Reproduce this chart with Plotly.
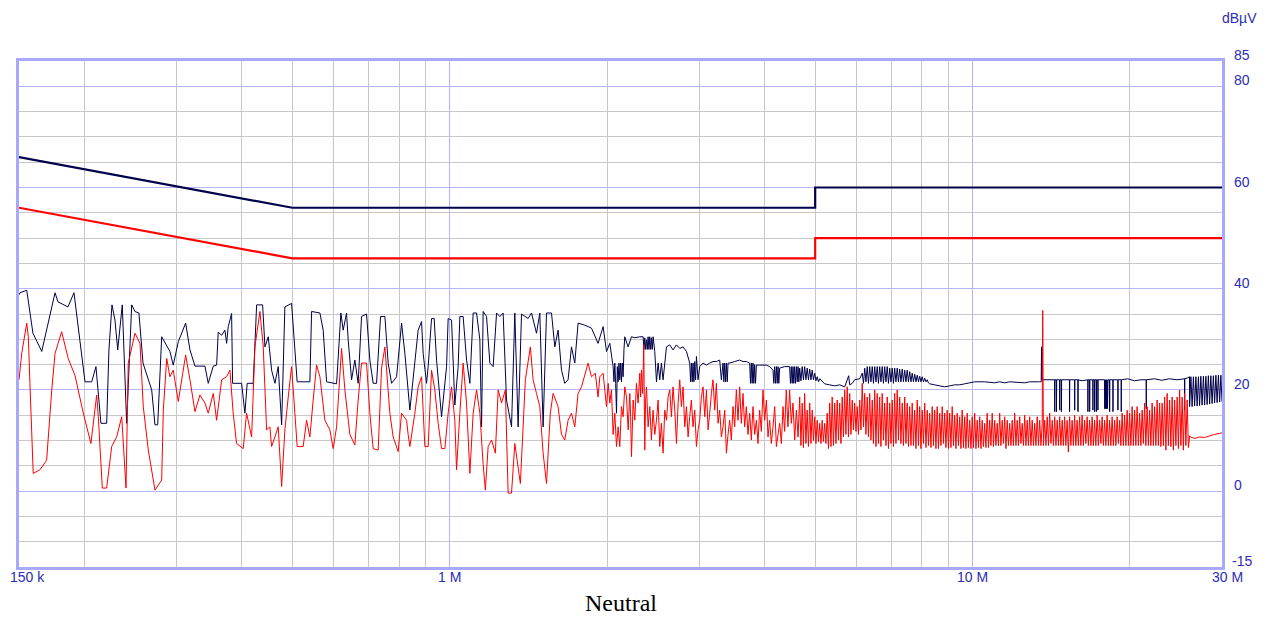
import math
import plotly.graph_objects as go

# ---------------- limit lines ----------------
limit_freq_mhz = [0.15, 0.5, 5.0, 5.0, 30.0]
qp_limit_dbuv = [66, 56, 56, 60, 60]
av_limit_dbuv = [56, 46, 46, 50, 50]

# ---------------- quasi-peak trace (navy) ----------------
qp_freq_mhz = [
    0.1500, 0.1507, 0.1552, 0.1595, 0.1658, 0.1758, 0.1781, 0.1861, 0.1911, 0.2006,
    0.2066, 0.2105, 0.2152, 0.2207, 0.2229, 0.2259, 0.2289, 0.2317, 0.2364, 0.2410,
    0.2464, 0.2500, 0.2544, 0.2590, 0.2691, 0.2730, 0.2763, 0.2812, 0.2916, 0.2959,
    0.3025, 0.3125, 0.3185, 0.3256, 0.3402, 0.3452, 0.3529, 0.3582, 0.3607, 0.3662,
    0.3715, 0.3743, 0.3770, 0.3826, 0.3843, 0.3998, 0.4057, 0.4098, 0.4208, 0.4272,
    0.4386, 0.4431, 0.4496, 0.4563, 0.4630, 0.4698, 0.4769, 0.4838, 0.4983, 0.5107,
    0.5401, 0.5442, 0.5645, 0.5727, 0.5813, 0.6075, 0.6191, 0.6254, 0.6348, 0.6393,
    0.6490, 0.6584, 0.6681, 0.6781, 0.6932, 0.7034, 0.7137, 0.7245, 0.7373, 0.7515,
    0.7625, 0.7740, 0.7912, 0.8088, 0.8207, 0.8389, 0.8701, 0.8832, 0.8895, 0.9029,
    0.9093, 0.9230, 0.9336, 0.9436, 0.9646, 0.9860, 0.9930, 1.0080, 1.0227, 1.0377,
    1.0455, 1.0608, 1.0768, 1.0926, 1.1086, 1.1253, 1.1418, 1.1504, 1.1585, 1.1760,
    1.1932, 1.2107, 1.2290, 1.2470, 1.2650, 1.2841, 1.3127, 1.3319, 1.3514, 1.3718,
    1.4121, 1.4334, 1.4654, 1.4869, 1.5086, 1.5314, 1.5654, 1.5883, 1.6115, 1.6358,
    1.6598, 1.6841, 1.7094, 1.7345, 1.7599, 1.8126, 1.8669, 1.9218, 1.9650, 1.9946,
    2.0238, 2.0534, 2.0611, 2.0688, 2.0766, 2.0843, 2.0918, 2.0992, 2.1070, 2.1148,
    2.1228, 2.1308, 2.1383, 2.1458, 2.1540, 2.1618, 2.1934, 2.2265, 2.2591, 2.3093,
    2.3431, 2.3519, 2.3607, 2.3696, 2.3784, 2.3870, 2.3955, 2.4044, 2.4132, 2.4223,
    2.4314, 2.4400, 2.4486, 2.4668, 2.4855, 2.5036, 2.5217, 2.5403, 2.5589, 2.5974,
    2.6351, 2.6739, 2.7143, 2.7536, 2.7943, 2.8364, 2.8775, 2.8885, 2.8995, 2.9096,
    2.9196, 2.9306, 2.9415, 2.9528, 2.9640, 2.9848, 3.0069, 3.0511, 3.0974, 3.1421,
    3.1886, 3.2360, 3.2835, 3.3078, 3.3320, 3.3442, 3.3565, 3.3694, 3.3823, 3.3944,
    3.4065, 3.4311, 3.5074, 3.5854, 3.6385, 3.6925, 3.7467, 3.7605, 3.7743, 3.7883,
    3.8022, 3.8161, 3.8300, 3.8448, 3.8596, 3.9152, 4.0333, 4.0913, 4.1523, 4.1673,
    4.1823, 4.1987, 4.2150, 4.2303, 4.2455, 4.2604, 4.2753, 4.3704, 4.4676, 4.4844,
    4.5011, 4.5180, 4.5348, 4.5509, 4.5670, 4.5851, 4.6032, 4.6202, 4.6371, 4.6538,
    4.6705, 4.696, 4.722, 4.748, 4.774, 4.800, 4.827, 4.854, 4.881, 4.908,
    4.935, 4.962, 4.990, 5.017, 5.045, 5.073, 5.101, 5.214, 5.330, 5.449,
    5.570, 5.694, 5.795, 5.821, 5.886, 5.951, 6.083, 6.151, 6.185, 6.219,
    6.253, 6.288, 6.322, 6.357, 6.392, 6.428, 6.463, 6.499, 6.535, 6.571,
    6.607, 6.643, 6.680, 6.717, 6.754, 6.791, 6.829, 6.867, 6.905, 6.943,
    6.981, 7.020, 7.058, 7.097, 7.136, 7.176, 7.215, 7.255, 7.295, 7.336,
    7.376, 7.417, 7.458, 7.499, 7.540, 7.582, 7.624, 7.666, 7.708, 7.751,
    7.794, 7.837, 7.880, 7.923, 7.967, 8.011, 8.055, 8.100, 8.145, 8.190,
    8.235, 8.280, 8.464, 8.653, 8.845, 9.042, 9.244, 9.449, 9.660, 9.875,
    10.095, 10.549, 11.024, 11.270, 11.521, 11.777, 12.581, 12.861, 13.441, 13.530,
    13.550, 13.570, 14.350, 14.360, 14.375, 14.460, 14.470, 14.485, 14.670, 14.680,
    14.695, 14.780, 14.790, 14.805, 15.320, 15.330, 15.345, 15.670, 15.680, 15.695,
    15.900, 15.910, 15.925, 16.200, 16.610, 16.620, 16.635, 16.740, 16.750, 16.765,
    16.980, 16.990, 17.005, 17.110, 17.120, 17.135, 17.240, 17.250, 17.265, 17.360,
    17.370, 17.385, 17.880, 17.890, 17.920, 17.950, 17.980, 18.020, 18.050, 18.090,
    18.120, 18.160, 18.280, 18.290, 18.305, 18.550, 18.560, 18.575, 18.960, 18.970,
    18.985, 19.240, 19.250, 19.265, 19.800, 20.400, 21.000, 21.480, 21.490, 21.505,
    22.300, 23.000, 23.800, 24.600, 25.440, 25.450, 25.465, 25.800, 26.000, 26.010,
    26.160, 26.300, 26.450, 26.590, 26.740, 26.890, 27.040, 27.180, 27.330, 27.480,
    27.640, 27.790, 27.940, 28.100, 28.250, 28.410, 28.560, 28.720, 28.880, 29.040,
    29.200, 29.360, 29.530, 29.690, 29.850, 30.000,
]
qp_level_dbuv = [
    38.8, 39.2, 39.7, 31.2, 27.6, 39.2, 37.4, 36.4, 39.2, 21.6,
    21.6, 24.6, 13.4, 13.4, 27.9, 36.8, 33.8, 27.9, 36.8, 13.4,
    36.8, 35.5, 35.2, 25.3, 20.0, 13.1, 13.1, 30.5, 27.6, 24.9,
    29.5, 33.2, 27.9, 24.7, 24.7, 21.3, 24.7, 24.9, 31.4, 30.8,
    31.8, 29.2, 32.5, 35.1, 21.3, 21.3, 15.4, 21.3, 21.3, 36.8,
    36.8, 28.5, 30.5, 23.9, 21.3, 24.6, 13.1, 36.4, 37.1, 21.6,
    21.6, 35.5, 35.2, 31.8, 21.6, 21.2, 35.2, 31.8, 35.2, 29.9,
    22.0, 25.9, 21.3, 34.5, 35.0, 25.9, 21.3, 21.3, 34.5, 34.5,
    25.3, 21.3, 22.6, 33.2, 27.2, 16.0, 31.8, 33.5, 27.2, 21.3,
    24.6, 34.1, 34.1, 25.9, 14.7, 24.6, 34.1, 33.8, 17.0, 24.6,
    34.5, 34.5, 25.9, 21.3, 35.2, 35.2, 29.9, 12.7, 35.5, 34.5,
    25.3, 24.6, 35.2, 34.5, 35.2, 18.0, 12.7, 35.2, 12.7, 35.0,
    34.1, 35.2, 31.2, 35.2, 12.7, 35.2, 35.2, 28.5, 31.8, 23.9,
    21.3, 22.0, 28.5, 25.3, 33.2, 32.8, 32.2, 29.2, 32.5, 27.6,
    29.2, 24.6, 21.6, 25.3, 21.3, 15.4, 24.6, 21.6, 25.3, 22.0,
    25.3, 21.6, 25.3, 22.6, 28.0, 30.5, 28.5, 30.5, 30.3, 30.5,
    30.5, 28.0, 30.3, 28.0, 29.9, 28.0, 30.5, 28.0, 30.5, 28.0,
    30.3, 28.0, 30.5, 27.6, 21.6, 25.3, 22.0, 25.3, 22.0, 28.5,
    28.9, 27.9, 28.9, 28.2, 28.5, 27.6, 25.3, 21.6, 25.3, 21.6,
    25.3, 21.6, 25.6, 22.0, 26.6, 22.0, 24.6, 25.3, 24.9, 25.3,
    25.6, 25.6, 25.9, 22.0, 25.3, 21.6, 25.3, 21.6, 25.3, 21.6,
    25.3, 25.3, 25.6, 25.9, 25.6, 25.6, 25.3, 21.3, 25.3, 21.3,
    25.3, 21.3, 25.0, 21.3, 24.9, 24.9, 24.9, 24.6, 23.9, 21.3,
    24.6, 21.3, 24.6, 21.3, 24.6, 21.3, 24.3, 24.6, 24.6, 21.3,
    24.6, 21.3, 24.6, 21.3, 24.6, 21.3, 24.6, 21.6, 24.6, 21.6,
    24.3, 21.8, 24.6, 22.0, 24.6, 22.0, 24.3, 22.0, 24.1, 22.0,
    23.9, 22.0, 23.3, 21.8, 22.6, 21.6, 22.2, 21.2, 21.0, 20.8,
    21.0, 20.6, 22.8, 21.0, 21.3, 22.0, 22.2, 23.3, 21.3, 24.3,
    21.6, 24.6, 21.3, 24.6, 21.6, 24.6, 21.3, 24.6, 21.6, 24.6,
    21.3, 24.6, 21.6, 24.6, 21.3, 24.6, 21.6, 24.6, 21.3, 24.3,
    21.6, 24.3, 21.3, 24.3, 21.6, 24.3, 21.6, 24.1, 21.6, 24.1,
    21.6, 23.9, 21.6, 23.9, 21.6, 23.6, 21.6, 23.3, 21.6, 23.1,
    21.6, 22.9, 21.6, 22.7, 21.6, 22.6, 21.6, 22.3, 21.6, 22.0,
    21.4, 21.2, 21.0, 20.8, 20.6, 20.8, 21.0, 21.0, 21.2, 21.4,
    21.6, 21.6, 21.4, 21.6, 21.4, 21.6, 21.4, 21.6, 21.6, 21.6,
    28.5, 22.0, 22.0, 15.7, 22.0, 22.0, 15.7, 22.0, 22.0, 16.0,
    22.0, 22.0, 15.7, 22.0, 22.0, 15.7, 22.0, 22.0, 16.0, 22.0,
    22.0, 15.7, 22.0, 21.8, 22.0, 15.7, 22.0, 22.0, 15.7, 22.0,
    22.0, 16.0, 22.0, 22.0, 15.7, 22.0, 22.0, 15.7, 22.0, 22.0,
    16.0, 22.0, 22.0, 16.3, 16.3, 22.0, 16.3, 22.0, 16.3, 22.0,
    16.3, 22.0, 22.0, 15.7, 22.0, 22.0, 15.7, 22.0, 22.0, 16.0,
    22.0, 22.0, 15.7, 22.0, 22.2, 21.8, 22.0, 22.0, 16.3, 22.0,
    22.2, 21.9, 22.2, 22.0, 22.2, 16.0, 22.2, 22.4, 22.6, 16.7,
    22.6, 16.7, 22.6, 16.8, 22.6, 16.8, 22.6, 16.9, 22.7, 17.0,
    22.7, 17.0, 22.7, 17.1, 22.8, 17.2, 22.8, 17.3, 22.8, 17.4,
    22.9, 17.5, 22.9, 17.6, 22.9, 17.7,
]

# ---------------- average trace (red) ----------------
av_freq_mhz = [
    0.1500, 0.1518, 0.1552, 0.1563, 0.1574, 0.1597, 0.1645, 0.1694, 0.1733, 0.1758,
    0.1810, 0.1863, 0.1919, 0.1991, 0.2059, 0.2112, 0.2127, 0.2165, 0.2207, 0.2256,
    0.2306, 0.2358, 0.2403, 0.2427, 0.2500, 0.2556, 0.2593, 0.2651, 0.2730, 0.2812,
    0.2832, 0.2875, 0.2916, 0.2959, 0.3025, 0.3125, 0.3185, 0.3256, 0.3328, 0.3402,
    0.3452, 0.3529, 0.3582, 0.3662, 0.3743, 0.3798, 0.3853, 0.3911, 0.4027, 0.4087,
    0.4179, 0.4240, 0.4334, 0.4398, 0.4464, 0.4529, 0.4563, 0.4630, 0.4698, 0.4769,
    0.4838, 0.4910, 0.4983, 0.5056, 0.5107, 0.5244, 0.5323, 0.5401, 0.5480, 0.5563,
    0.5645, 0.5770, 0.5898, 0.5985, 0.6075, 0.6210, 0.6301, 0.6441, 0.6584, 0.6681,
    0.6781, 0.6932, 0.7034, 0.7137, 0.7296, 0.7406, 0.7515, 0.7682, 0.7794, 0.7968,
    0.8088, 0.8268, 0.8326, 0.8389, 0.8576, 0.8701, 0.8832, 0.8962, 0.9093, 0.9230,
    0.9365, 0.9503, 0.9646, 0.9787, 0.9930, 1.0080, 1.0227, 1.0304, 1.0455, 1.0608,
    1.0768, 1.0926, 1.1086, 1.1253, 1.1418, 1.1585, 1.1698, 1.1843, 1.2022, 1.2225,
    1.2377, 1.2563, 1.2776, 1.2932, 1.3127, 1.3319, 1.3648, 1.3952, 1.4263, 1.4437,
    1.4654, 1.4869, 1.5086, 1.5314, 1.5572, 1.5765, 1.6115, 1.6358, 1.6598, 1.6841,
    1.7094, 1.7345, 1.7599, 1.7865, 1.8391, 1.8669, 1.8986, 1.9218, 1.9367, 1.9650,
    1.9946, 2.0092, 2.0238, 2.0386, 2.0534, 2.0688, 2.0843, 2.0995, 2.1147, 2.1302,
    2.1457, 2.1620, 2.1784, 2.1941, 2.2099, 2.2182, 2.2265, 2.2346, 2.2427, 2.2591,
    2.2755, 2.2924, 2.3093, 2.3180, 2.3266, 2.3385, 2.3503, 2.3607, 2.3696, 2.3784,
    2.3958, 2.4132, 2.4309, 2.4486, 2.4670, 2.4855, 2.5036, 2.5217, 2.5403, 2.5589,
    2.5781, 2.5974, 2.6162, 2.6351, 2.6545, 2.6739, 2.6941, 2.7143, 2.7340, 2.7536,
    2.7740, 2.7943, 2.8153, 2.8364, 2.8570, 2.8775, 2.8985, 2.9196, 2.9418, 2.9640,
    2.9855, 3.0069, 3.0290, 3.0511, 3.0742, 3.0974, 3.1198, 3.1421, 3.1654, 3.1886,
    3.2123, 3.2360, 3.2598, 3.2835, 3.3078, 3.3320, 3.3572, 3.3823, 3.4067, 3.4311,
    3.4566, 3.4820, 3.5077, 3.5333, 3.5594, 3.5854, 3.6120, 3.6385, 3.6655, 3.6925,
    3.7196, 3.7467, 3.7745, 3.8022, 3.8309, 3.8596, 3.8874, 3.9152, 3.9443, 3.9733,
    4.0033, 4.0333, 4.0623, 4.0913, 4.1218, 4.1523, 4.1837, 4.2150, 4.2459, 4.2767,
    4.3084, 4.3400, 4.3713, 4.4025, 4.4351, 4.4676, 4.5010, 4.5344, 4.5687, 4.6030,
    4.6368,
    # dense part of the sweep
    4.6705, 4.696, 4.722, 4.748, 4.774, 4.800, 4.827, 4.854, 4.881, 4.908,
    4.935, 4.962, 4.990, 5.017, 5.045, 5.073, 5.101, 5.129, 5.157, 5.185,
    5.214, 5.243, 5.272, 5.301, 5.330, 5.360, 5.389, 5.419, 5.449, 5.479,
    5.509, 5.540, 5.570, 5.601, 5.632, 5.663, 5.694, 5.725, 5.757, 5.789,
    5.821, 5.853, 5.886, 5.918, 5.951, 5.984, 6.017, 6.050, 6.083, 6.117,
    6.151, 6.185, 6.219, 6.253, 6.288, 6.322, 6.357, 6.392, 6.428, 6.463,
    6.499, 6.535, 6.571, 6.607, 6.643, 6.680, 6.717, 6.754, 6.791, 6.829,
    6.867, 6.905, 6.943, 6.981, 7.020, 7.058, 7.097, 7.136, 7.176, 7.215,
    7.255, 7.295, 7.336, 7.376, 7.417, 7.458, 7.499, 7.540, 7.582, 7.624,
    7.666, 7.708, 7.751, 7.794, 7.837, 7.880, 7.923, 7.967, 8.011, 8.055,
    8.100, 8.145, 8.190, 8.235, 8.280, 8.326, 8.372, 8.418, 8.464, 8.511,
    8.558, 8.605, 8.653, 8.701, 8.749, 8.797, 8.845, 8.894, 8.943, 8.992,
    9.042, 9.092, 9.143, 9.193, 9.244, 9.295, 9.346, 9.397, 9.449, 9.501,
    9.554, 9.607, 9.660, 9.713, 9.767, 9.821, 9.875, 9.930, 9.985, 10.040,
    10.095, 10.151, 10.207, 10.263, 10.320, 10.377, 10.434, 10.491, 10.549, 10.607,
    10.666, 10.725, 10.784, 10.844, 10.904, 10.964, 11.024, 11.085, 11.147, 11.208,
    11.270, 11.332, 11.395, 11.458, 11.521, 11.584, 11.648, 11.712, 11.777, 11.842,
    11.908, 11.973, 12.039, 12.106, 12.173, 12.240, 12.307, 12.375, 12.444, 12.512,
    12.581, 12.650, 12.720, 12.790, 12.861, 12.932, 13.004, 13.076, 13.148, 13.221,
    13.294, 13.367, 13.441, 13.515, 13.590, 13.620, 13.665, 13.740, 13.816, 13.893,
    13.969, 14.046, 14.124, 14.202, 14.280, 14.358, 14.438, 14.518, 14.598, 14.678,
    14.758, 14.839, 14.920, 15.000, 15.083, 15.167, 15.250, 15.334, 15.419, 15.504,
    15.590, 15.675, 15.762, 15.849, 15.936, 16.024, 16.113, 16.202, 16.291, 16.381,
    16.472, 16.563, 16.654, 16.746, 16.839, 16.932, 17.025, 17.118, 17.213, 17.309,
    17.404, 17.500, 17.597, 17.694, 17.791, 17.889, 17.988, 18.088, 18.187, 18.287,
    18.389, 18.491, 18.593, 18.695, 18.799, 18.903, 19.007, 19.111, 19.217, 19.324,
    19.430, 19.537, 19.645, 19.754, 19.863, 19.972, 20.083, 20.194, 20.305, 20.416,
    20.529, 20.643, 20.757, 20.871, 20.987, 21.103, 21.219, 21.336, 21.454, 21.573,
    21.692, 21.811, 21.932, 22.054, 22.175, 22.297, 22.421, 22.545, 22.669, 22.793,
    22.920, 23.047, 23.174, 23.301, 23.430, 23.560, 23.689, 23.819, 23.951, 24.084,
    24.217, 24.350, 24.485, 24.621, 24.756, 24.892, 25.030, 25.169, 25.307, 25.446,
    25.587, 25.729, 25.871, 26.013, 26.150, 26.590, 27.180, 27.790, 28.410, 29.040,
    29.690, 30.000,
]
av_level_dbuv = [
    22.0, 27.2, 33.2, 30.5, 21.3, 3.5, 4.2, 6.1, 20.0, 27.2,
    31.5, 26.2, 22.9, 15.4, 9.4, 19.0, 14.7, 0.6, 0.6, 8.8,
    10.7, 14.7, 0.6, 25.3, 31.2, 29.2, 16.7, 8.1, 0.2, 2.2,
    16.0, 26.2, 22.6, 23.9, 17.7, 26.9, 22.0, 15.7, 19.0, 17.4,
    15.4, 19.3, 14.0, 22.0, 22.6, 23.9, 15.4, 9.4, 8.4, 15.4,
    10.7, 28.5, 35.5, 28.5, 12.1, 12.7, 8.8, 10.7, 12.7, 0.9,
    12.1, 18.6, 24.6, 15.4, 8.8, 8.8, 14.0, 10.7, 18.0, 24.9,
    22.6, 14.0, 12.1, 8.4, 12.7, 28.2, 20.0, 11.2, 9.1, 18.0,
    25.3, 25.3, 15.4, 8.4, 8.1, 24.3, 28.5, 15.4, 10.7, 7.8,
    15.4, 14.0, 11.2, 8.8, 15.4, 20.6, 22.6, 8.8, 8.8, 23.9,
    20.0, 13.4, 8.4, 8.4, 15.4, 20.6, 14.0, 4.2, 15.4, 25.3,
    17.4, 3.5, 15.4, 20.0, 15.4, 5.3, 0.2, 8.8, 10.1, 7.5,
    20.0, 17.4, 20.0, -0.4, -0.4, 9.4, 1.5, 22.0, 28.5, 22.0,
    19.3, 16.7, 7.5, 1.5, 15.4, 19.3, 16.7, 11.2, 10.1, 14.0,
    15.4, 12.7, 19.3, 20.6, 25.3, 22.6, 23.3, 18.6, 22.6, 23.3,
    16.7, 21.3, 17.4, 20.0, 11.2, 15.4, 8.8, 12.7, 8.8, 16.7,
    14.7, 20.6, 18.6, 12.1, 19.3, 14.7, 6.8, 12.1, 18.0, 14.0,
    21.3, 17.4, 23.3, 18.6, 23.9, 19.3, 28.9, 8.1, 18.0, 20.6,
    12.7, 16.7, 10.1, 16.0, 11.2, 14.0, 18.0, 8.8, 13.4, 7.5,
    16.0, 14.0, 18.6, 20.0, 14.7, 20.6, 16.0, 9.4, 17.4, 22.0,
    16.7, 20.6, 12.7, 16.7, 10.7, 14.7, 18.0, 12.7, 16.0, 8.8,
    12.1, 14.0, 18.6, 20.6, 14.7, 20.0, 12.1, 15.4, 19.3, 22.0,
    16.0, 21.3, 13.4, 16.0, 10.7, 12.7, 16.0, 7.5, 11.2, 14.0,
    10.1, 16.7, 12.7, 20.0, 14.0, 20.6, 13.4, 19.3, 12.7, 16.7,
    11.2, 15.4, 10.1, 16.7, 11.2, 14.0, 9.4, 16.0, 11.8, 20.0,
    14.0, 18.0, 10.7, 14.0, 9.4, 12.7, 16.7, 8.8, 11.2, 13.4,
    9.4, 16.7, 11.8, 20.0, 12.7, 20.0, 13.4, 17.4, 10.1, 16.0,
    10.7,
    # dense part of the sweep
    18.6, 9.0, 17.4, 8.6, 19.3, 9.4, 16.0, 8.8, 17.4, 9.4,
    16.0, 10.0, 14.7, 9.4, 14.0, 9.8, 13.4, 9.4, 14.0, 9.8,
    13.4, 9.4, 15.4, 8.4, 17.4, 8.8, 18.6, 9.0, 17.4, 9.4,
    18.0, 10.1, 17.4, 9.4, 18.6, 10.7, 20.0, 11.2, 20.6, 10.7,
    19.3, 11.2, 18.0, 12.1, 17.4, 11.8, 16.7, 11.2, 18.0, 12.1,
    21.3, 12.7, 19.3, 11.2, 18.6, 10.7, 19.3, 10.1, 18.0, 9.4,
    20.0, 8.8, 19.3, 9.4, 18.6, 8.8, 19.3, 10.1, 17.4, 9.0,
    18.6, 8.4, 17.4, 9.4, 18.0, 8.8, 19.3, 9.4, 20.0, 10.1,
    18.6, 9.4, 17.4, 9.0, 18.6, 9.4, 17.4, 8.8, 16.7, 9.0,
    17.4, 9.0, 16.0, 8.4, 18.0, 9.0, 16.7, 8.4, 16.0, 9.4,
    17.4, 8.6, 16.0, 9.0, 15.4, 8.6, 16.7, 9.0, 16.0, 8.4,
    16.7, 8.4, 15.4, 9.0, 16.7, 9.4, 15.4, 8.6, 16.0, 8.4,
    15.4, 8.6, 16.7, 9.0, 15.0, 8.4, 15.4, 9.0, 14.7, 8.4,
    16.0, 8.6, 14.7, 8.4, 15.4, 8.6, 14.0, 8.4, 14.7, 8.6,
    15.4, 8.4, 14.0, 8.6, 14.7, 8.4, 14.0, 8.8, 13.4, 8.6,
    15.4, 8.6, 14.0, 9.0, 15.4, 8.8, 14.0, 9.0, 13.4, 9.0,
    15.4, 9.0, 14.0, 9.4, 14.7, 8.4, 14.0, 9.0, 13.4, 9.0,
    14.0, 9.0, 15.4, 9.0, 14.0, 9.0, 14.7, 9.4, 13.4, 9.0,
    15.0, 9.0, 14.0, 9.0, 14.7, 9.0, 14.0, 9.0, 13.4, 9.0,
    14.7, 9.0, 14.0, 9.0, 13.4, 35.7, 9.0, 14.0, 9.0, 14.7,
    9.0, 15.4, 9.4, 14.0, 9.0, 14.7, 9.0, 14.0, 9.0, 14.7,
    9.0, 14.0, 9.0, 14.7, 9.0, 14.0, 7.7, 14.7, 9.0, 14.0,
    9.0, 15.0, 9.0, 14.0, 9.0, 14.7, 9.0, 15.0, 9.0, 14.0,
    9.4, 14.7, 9.0, 14.0, 9.0, 14.7, 9.0, 14.0, 9.0, 15.0,
    9.0, 14.0, 9.4, 14.7, 9.0, 14.0, 9.0, 15.0, 9.0, 14.0,
    9.0, 14.7, 9.0, 14.0, 9.0, 14.7, 9.4, 14.0, 9.0, 15.4,
    9.0, 15.0, 9.0, 16.0, 9.0, 15.4, 9.0, 16.7, 9.0, 16.0,
    9.0, 16.7, 9.0, 15.4, 9.0, 16.0, 9.4, 17.4, 9.0, 16.7,
    9.0, 16.0, 9.0, 17.4, 9.0, 16.7, 9.0, 18.0, 9.0, 17.4,
    8.8, 17.4, 9.0, 18.6, 8.1, 19.3, 9.0, 18.0, 8.8, 18.6,
    8.1, 18.0, 9.0, 18.6, 8.4, 20.0, 9.0, 18.6, 8.1, 19.3,
    9.0, 18.0, 8.6, 10.9, 10.7, 10.4, 10.7, 10.6, 10.9, 11.2,
    11.4, 11.5,
]

assert len(qp_freq_mhz) == len(qp_level_dbuv), (len(qp_freq_mhz), len(qp_level_dbuv))
assert len(av_freq_mhz) == len(av_level_dbuv), (len(av_freq_mhz), len(av_level_dbuv))

# ---------------- axis labelling ----------------
x_tick_vals = [0.15, 1, 10, 30]
x_tick_text = ["150 k", "1 M", "10 M", "30 M"]
x_minor_vals = [0.2, 0.3, 0.4, 0.5, 0.6, 0.7, 0.8, 0.9,
                2, 3, 4, 5, 6, 7, 8, 9, 20]
y_tick_vals = [-15, 0, 20, 40, 60, 80, 85]
y_tick_text = ["-15", "0", "20", "40", "60", "80", "85"]
y_minor_vals = [-10, -5, 5, 10, 15, 25, 30, 35, 45, 50, 55, 65, 70, 75]

NAVY = "#00004a"
RED = "#ff0000"
LABEL = "#2c2cb4"
GRID_MAJOR = "#b4b4ff"
GRID_MINOR = "#c8c8c8"
BORDER = "#a8a8ff"

x_lo = math.log10(x_tick_vals[0])
x_hi = math.log10(x_tick_vals[-1])

fig = go.Figure()
fig.add_trace(go.Scatter(x=qp_freq_mhz, y=qp_level_dbuv, mode="lines",
                         line=dict(color=NAVY, width=1, simplify=False),
                         name="QP", hoverinfo="skip"))
fig.add_trace(go.Scatter(x=av_freq_mhz, y=av_level_dbuv, mode="lines",
                         line=dict(color=RED, width=1, simplify=False),
                         name="AV", hoverinfo="skip"))
fig.add_trace(go.Scatter(x=limit_freq_mhz, y=qp_limit_dbuv, mode="lines",
                         line=dict(color=NAVY, width=2.2), name="QP limit"))
fig.add_trace(go.Scatter(x=limit_freq_mhz, y=av_limit_dbuv, mode="lines",
                         line=dict(color=RED, width=2.2), name="AV limit"))

tick_font = dict(family="Liberation Sans, Arial, sans-serif", size=14, color=LABEL)

annotations = []
# frequency labels under the axis, positioned on the axis scale
for i, (val, txt) in enumerate(zip(x_tick_vals, x_tick_text)):
    first = i == 0
    last = i == len(x_tick_vals) - 1
    annotations.append(dict(
        text=txt, xref="paper", yref="paper",
        x=(math.log10(val) - x_lo) / (x_hi - x_lo), y=0,
        xanchor="left" if first else "center", yanchor="middle",
        xshift=-11 if first else (5 if last else 0), yshift=-10,
        showarrow=False, font=tick_font))
# level labels right of the plot, sitting just above their grid line
for val, txt in zip(y_tick_vals, y_tick_text):
    annotations.append(dict(
        text=txt, xref="paper", yref="y", x=1.0, y=val,
        xanchor="left", yanchor="middle",
        xshift=8 if val < 0 else 10, yshift=6,
        showarrow=False, font=tick_font))
annotations.append(dict(text="dBµV", xref="paper", yref="paper", x=1.0, y=1.0,
                        xanchor="left", yanchor="middle", yshift=43, xshift=-2,
                        showarrow=False, font=tick_font))
annotations.append(dict(text="Neutral", xref="paper", yref="paper", x=0.5, y=0.0,
                        xanchor="center", yanchor="middle", yshift=-36,
                        showarrow=False,
                        font=dict(family="Liberation Serif, Times New Roman, serif",
                                  size=24, color="black")))

# the page body adds an 8 px offset; the figure is sized so that the
# plotting area lands on x 19..1222 and y 61..567 of the window
fig.update_layout(
    width=1263, height=611,
    margin=dict(l=11, r=49, t=53, b=52),
    paper_bgcolor="white", plot_bgcolor="white",
    showlegend=False,
    xaxis=dict(
        type="log", range=[x_lo, x_hi], automargin=False,
        tickmode="array", tickvals=x_tick_vals, showticklabels=False, ticks="",
        showgrid=True, gridcolor=GRID_MAJOR, gridwidth=1,
        minor=dict(tickmode="array", tickvals=x_minor_vals, showgrid=True,
                   gridcolor=GRID_MINOR, gridwidth=1, ticks=""),
        showline=True, mirror=True, linecolor=BORDER, linewidth=2.5,
        zeroline=False,
    ),
    yaxis=dict(
        range=[-15, 85], side="right", automargin=False,
        tickmode="array", tickvals=y_tick_vals, showticklabels=False, ticks="",
        showgrid=True, gridcolor=GRID_MAJOR, gridwidth=1,
        minor=dict(tickmode="array", tickvals=y_minor_vals, showgrid=True,
                   gridcolor=GRID_MINOR, gridwidth=1, ticks=""),
        showline=True, mirror=True, linecolor=BORDER, linewidth=2.5,
        zeroline=False,
    ),
    annotations=annotations,
)

fig.write_html("out.html")
